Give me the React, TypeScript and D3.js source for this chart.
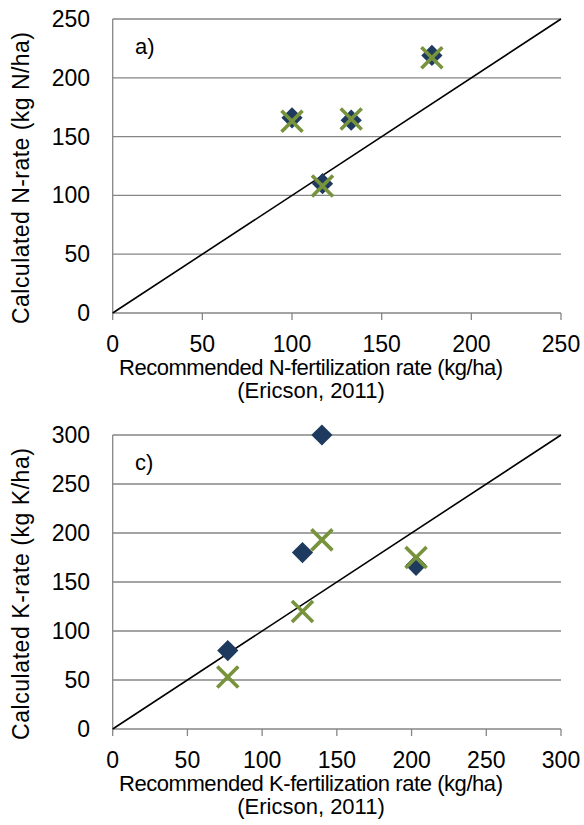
import React from 'react';
import * as d3 from 'd3';

// panel a) nitrogen
const nRecommended = [100, 117, 133, 178];
const nCalcDiamond = [166, 110, 164, 219];
const nCalcCross = [163, 108, 165, 217];
const nTicks = [0, 50, 100, 150, 200, 250];

// panel c) potassium
const kRecommended = [77, 127, 140, 203];
const kCalcDiamond = [80, 180, 300, 167];
const kCalcCross = [53, 120, 193, 175];
const kTicks = [0, 50, 100, 150, 200, 250, 300];

const FONT = '"Liberation Sans", Arial, sans-serif';
const GRID = '#868686';
const NAVY = '#1f3a5f';
const GREEN = '#77933c';

interface PanelProps {
  top: number;
  ticks: number[];
  xs: number[];
  diamonds: number[];
  crosses: number[];
  letter: string;
  yTitle: string;
  xTitle: string;
}

const Panel: React.FC<PanelProps> = ({ top, ticks, xs, diamonds, crosses, letter, yTitle, xTitle }) => {
  const gRef = React.useRef<SVGGElement>(null);
  const left = 112.7;
  const right = 561;
  const innerHeight = 294;
  const max = ticks[ticks.length - 1];

  React.useEffect(() => {
    if (!gRef.current) return;
    const g = d3.select(gRef.current);
    g.selectAll('*').remove();

    const x = d3.scaleLinear().domain([0, max]).range([left, right]);
    const y = d3.scaleLinear().domain([0, max]).range([top + innerHeight, top]);

    // gridlines
    g.selectAll('.grid')
      .data(ticks.slice(1))
      .enter().append('line')
      .attr('x1', left).attr('x2', right)
      .attr('y1', d => y(d)).attr('y2', d => y(d))
      .attr('stroke', GRID).attr('stroke-width', 1.3);

    // axes
    g.append('line')
      .attr('x1', left).attr('x2', left)
      .attr('y1', y(0)).attr('y2', y(max))
      .attr('stroke', GRID).attr('stroke-width', 1.3);
    g.append('line')
      .attr('x1', left).attr('x2', right)
      .attr('y1', y(0)).attr('y2', y(0))
      .attr('stroke', GRID).attr('stroke-width', 1.3);
    g.selectAll('.xtick')
      .data(ticks)
      .enter().append('line')
      .attr('x1', d => x(d)).attr('x2', d => x(d))
      .attr('y1', y(0)).attr('y2', y(0) + 7)
      .attr('stroke', GRID).attr('stroke-width', 1.3);

    // tick labels
    g.selectAll('.ylab')
      .data(ticks)
      .enter().append('text')
      .attr('x', 90).attr('y', d => y(d))
      .attr('dy', '0.35em')
      .attr('text-anchor', 'end')
      .attr('font-size', 23)
      .text(d => d);
    g.selectAll('.xlab')
      .data(ticks)
      .enter().append('text')
      .attr('x', d => x(d)).attr('y', y(0) + 38.5)
      .attr('text-anchor', 'middle')
      .attr('font-size', 23)
      .text(d => d);

    // 1:1 line
    g.append('path')
      .datum([0, max])
      .attr('fill', 'none')
      .attr('stroke', '#000')
      .attr('stroke-width', 1.6)
      .attr('d', d3.line<number>().x(d => x(d)).y(d => y(d)));

    // diamonds
    const diamond = d3.symbol(d3.symbolSquare, 225);
    g.selectAll('.dia')
      .data(xs)
      .enter().append('path')
      .attr('transform', (d, i) => `translate(${x(d)},${y(diamonds[i])}) rotate(45)`)
      .attr('d', diamond())
      .attr('fill', NAVY);

    // crosses
    const r = 10.5;
    g.selectAll('.cross')
      .data(xs)
      .enter().append('path')
      .attr('transform', (d, i) => `translate(${x(d)},${y(crosses[i])})`)
      .attr('d', `M${-r},${-r}L${r},${r}M${-r},${r}L${r},${-r}`)
      .attr('stroke', GREEN)
      .attr('stroke-width', 3.6)
      .attr('fill', 'none');

    // panel letter
    g.append('text')
      .attr('x', 135).attr('y', top + 35)
      .attr('font-size', 22)
      .text(letter);

    // axis titles
    g.append('text')
      .attr('transform', `translate(29,${top + innerHeight / 2 + 12}) rotate(-90)`)
      .attr('text-anchor', 'middle')
      .attr('font-size', 23)
      .attr('textLength', 292)
      .text(yTitle);
    g.append('text')
      .attr('x', 311).attr('y', y(0) + 62)
      .attr('text-anchor', 'middle')
      .attr('font-size', 22)
      .attr('textLength', 384)
      .text(xTitle);
    g.append('text')
      .attr('x', 311).attr('y', y(0) + 85)
      .attr('text-anchor', 'middle')
      .attr('font-size', 22)
      .text('(Ericson, 2011)');
  }, [top, ticks, xs, diamonds, crosses, letter, yTitle, xTitle, max]);

  return <g ref={gRef} fontFamily={FONT} fill="#000" />;
};

const App: React.FC = () => (
  <svg
    width={584}
    height={825}
    style={{ position: 'absolute', left: 0, top: 0, background: '#fff' }}
  >
    <Panel
      top={19}
      ticks={nTicks}
      xs={nRecommended}
      diamonds={nCalcDiamond}
      crosses={nCalcCross}
      letter="a)"
      yTitle="Calculated N-rate (kg N/ha)"
      xTitle="Recommended N-fertilization rate (kg/ha)"
    />
    <Panel
      top={435}
      ticks={kTicks}
      xs={kRecommended}
      diamonds={kCalcDiamond}
      crosses={kCalcCross}
      letter="c)"
      yTitle="Calculated K-rate (kg K/ha)"
      xTitle="Recommended K-fertilization rate (kg/ha)"
    />
  </svg>
);

export default App;
